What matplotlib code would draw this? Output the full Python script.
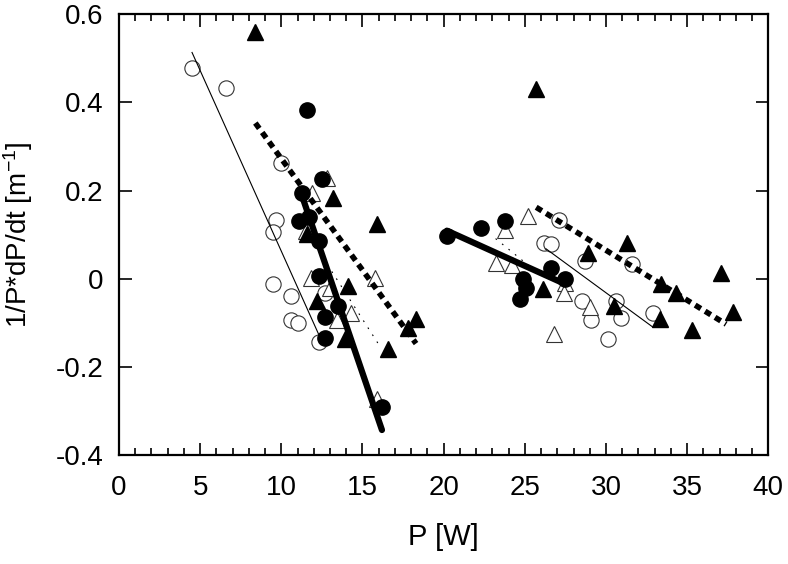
import matplotlib.pyplot as plt
from matplotlib.ticker import MultipleLocator

plt.rcParams['font.family'] = ['Liberation Sans', 'DejaVu Sans']

# open circles
oc_x = [4.5, 6.6, 10.0, 9.7, 9.5, 9.5, 12.7, 10.6, 10.6, 11.0, 12.3,
        27.1, 26.2, 26.6, 28.7, 31.6, 28.5, 30.6, 32.9, 29.1, 30.9, 30.1]
oc_y = [0.477, 0.433, 0.262, 0.134, 0.107, -0.012, -0.032, -0.039, -0.094, -0.101, -0.144,
        0.134, 0.082, 0.079, 0.041, 0.034, -0.051, -0.051, -0.078, -0.094, -0.090, -0.137]

# filled circles
fc_x = [11.6, 12.5, 11.3, 11.1, 11.7, 12.3, 12.3, 13.5, 12.7, 12.7, 16.2,
        20.2, 22.3, 23.8, 26.6, 24.9, 25.1, 24.7, 27.5]
fc_y = [0.383, 0.226, 0.194, 0.132, 0.139, 0.086, 0.006, -0.062, -0.087, -0.135, -0.290,
        0.098, 0.114, 0.132, 0.025, 0.0, -0.021, -0.046, 0.0]

# open triangles
ot_x = [12.8, 11.9, 11.5, 11.8, 13.0, 15.8, 14.3, 13.4, 15.9,
        25.2, 23.8, 23.2, 24.2, 27.5, 27.4, 29.0, 26.8]
ot_y = [0.228, 0.194, 0.109, 0.002, -0.021, 0.002, -0.078, -0.094, -0.272,
        0.143, 0.111, 0.036, 0.031, -0.009, -0.032, -0.064, -0.126]

# filled triangles
ft_x = [8.4, 13.2, 15.9, 11.6, 14.1, 12.2, 18.3, 17.8, 13.9, 16.6,
        25.7, 31.3, 28.9, 26.1, 30.5, 33.3, 33.4, 34.3, 37.1, 37.8, 35.3]
ft_y = [0.559, 0.182, 0.125, 0.102, -0.016, -0.051, -0.092, -0.112, -0.137, -0.160,
        0.431, 0.082, 0.059, -0.023, -0.062, -0.092, -0.012, -0.032, 0.013, -0.076, -0.117]

# fitted lines (endpoints)
oc_fit_left = ([4.5, 12.3], [0.513, -0.126])
oc_fit_right = ([26.3, 32.9], [0.068, -0.110])
fc_fit_left = ([11.2, 16.2], [0.196, -0.343])
fc_fit_right = ([20.2, 27.3], [0.109, -0.009])
ot_fit_left = ([12.0, 16.0], [0.08, -0.149])
ot_fit_right = ([23.2, 25.5], [0.091, 0.022])
ft_fit_left = ([8.4, 18.3], [0.353, -0.147])
ft_fit_right = ([25.7, 37.4], [0.162, -0.103])

fig = plt.figure(figsize=(7.88, 5.64), dpi=100)
ax = fig.add_axes([0.151, 0.193, 0.824, 0.782])

ms = 11
ax.plot(oc_x, oc_y, 'o', ms=ms, mfc='white', mec='#333333', mew=0.8, ls='none')
ax.plot(ot_x, ot_y, '^', ms=ms + 1, mfc='white', mec='#333333', mew=0.8, ls='none')
ax.plot(fc_x, fc_y, 'o', ms=ms, mfc='black', mec='black', ls='none')
ax.plot(ft_x, ft_y, '^', ms=ms + 1, mfc='black', mec='black', ls='none')

for xs, ys in [oc_fit_left, oc_fit_right]:
    ax.plot(xs, ys, color='black', lw=0.8)
for xs, ys in [fc_fit_left, fc_fit_right]:
    ax.plot(xs, ys, color='black', lw=4.5, solid_capstyle='round')
for xs, ys in [ot_fit_left, ot_fit_right]:
    ax.plot(xs, ys, color='black', lw=0.8, dashes=(1.5, 6))
for xs, ys in [ft_fit_left, ft_fit_right]:
    ax.plot(xs, ys, color='black', lw=4, dashes=(1.2, 0.9), dash_capstyle='butt')

ax.set_xlim(0, 40)
ax.set_ylim(-0.4, 0.6)
ax.xaxis.set_major_locator(MultipleLocator(5))
ax.xaxis.set_minor_locator(MultipleLocator(1))
ax.set_yticks([-0.4, -0.2, 0, 0.2, 0.4, 0.6])
ax.set_yticklabels(['-0.4', '-0.2', '0', '0.2', '0.4', '0.6'])
ax.tick_params(which='both', direction='in', top=True, right=True, labelsize=20, width=1.2)
ax.tick_params(which='major', length=9)
ax.tick_params(which='minor', length=5)
ax.tick_params(axis='x', which='major', pad=14)
ax.tick_params(axis='y', which='major', pad=11)
for s in ax.spines.values():
    s.set_linewidth(1.6)

ax.set_xlabel('P [W]', fontsize=21, labelpad=16)
ax.set_ylabel(r'1/P*dP/dt [m$\mathregular{^{-1}}$]', fontsize=20, labelpad=15)

fig.savefig('out.png', dpi=100)
